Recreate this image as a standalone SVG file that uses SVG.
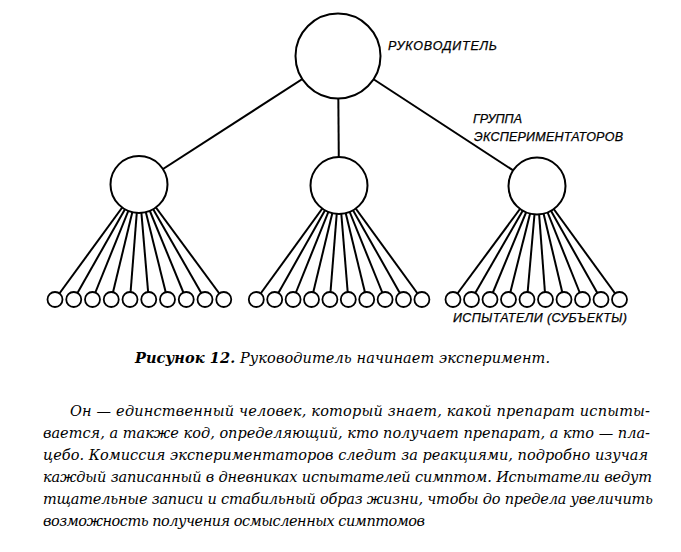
<svg xmlns="http://www.w3.org/2000/svg" width="681" height="552" viewBox="0 0 681 552">
<style>
.c{fill:#fff;stroke:#000;stroke-width:2}
.s{fill:#fff;stroke:#000;stroke-width:1.8}
.ln{stroke:#000;stroke-width:2;fill:none}
.lbl{font-family:"Liberation Sans",Arial,sans-serif;font-style:italic;font-size:12.5px;fill:#000;stroke:#000;stroke-width:0.25}
.txt{font-family:"DejaVu Serif","Liberation Serif",serif;font-style:italic;font-size:14.5px;fill:#000}
</style>
<rect width="681" height="552" fill="#fff"/>
<g id="connectors" class="ln">
<line x1="338" y1="56" x2="139" y2="184.5"/>
<line x1="338" y1="56" x2="339" y2="185.5"/>
<line x1="338" y1="56" x2="537" y2="186"/>
<line x1="139" y1="184.5" x2="55" y2="299.5"/>
<line x1="139" y1="184.5" x2="73.75" y2="299.5"/>
<line x1="139" y1="184.5" x2="92.5" y2="299.5"/>
<line x1="139" y1="184.5" x2="111.25" y2="299.5"/>
<line x1="139" y1="184.5" x2="130" y2="299.5"/>
<line x1="139" y1="184.5" x2="148.75" y2="299.5"/>
<line x1="139" y1="184.5" x2="167.5" y2="299.5"/>
<line x1="139" y1="184.5" x2="186.25" y2="299.5"/>
<line x1="139" y1="184.5" x2="205" y2="299.5"/>
<line x1="139" y1="184.5" x2="223.75" y2="299.5"/>
<line x1="339" y1="185.5" x2="256.3" y2="299.5"/>
<line x1="339" y1="185.5" x2="274.7" y2="299.5"/>
<line x1="339" y1="185.5" x2="293.1" y2="299.5"/>
<line x1="339" y1="185.5" x2="311.5" y2="299.5"/>
<line x1="339" y1="185.5" x2="329.9" y2="299.5"/>
<line x1="339" y1="185.5" x2="348.3" y2="299.5"/>
<line x1="339" y1="185.5" x2="366.7" y2="299.5"/>
<line x1="339" y1="185.5" x2="385.1" y2="299.5"/>
<line x1="339" y1="185.5" x2="403.5" y2="299.5"/>
<line x1="339" y1="185.5" x2="421.9" y2="299.5"/>
<line x1="537" y1="186" x2="453" y2="299.5"/>
<line x1="537" y1="186" x2="471.5" y2="299.5"/>
<line x1="537" y1="186" x2="490" y2="299.5"/>
<line x1="537" y1="186" x2="508.5" y2="299.5"/>
<line x1="537" y1="186" x2="527" y2="299.5"/>
<line x1="537" y1="186" x2="545.5" y2="299.5"/>
<line x1="537" y1="186" x2="564" y2="299.5"/>
<line x1="537" y1="186" x2="582.5" y2="299.5"/>
<line x1="537" y1="186" x2="601" y2="299.5"/>
<line x1="537" y1="186" x2="619.5" y2="299.5"/>
</g>
<g id="leader">
<circle class="c" cx="338" cy="56" r="42.5"/>
<text class="lbl" x="388" y="50" textLength="109">РУКОВОДИТЕЛЬ</text>
</g>
<g id="group-left"><circle class="c" cx="139" cy="184.5" r="28.5"/></g>
<g id="group-center"><circle class="c" cx="339" cy="185.5" r="28.5"/></g>
<g id="group-right">
<circle class="c" cx="537" cy="186" r="28.5"/>
<text class="lbl" x="473" y="123">ГРУППА</text>
<text class="lbl" x="474" y="141" textLength="149">ЭКСПЕРИМЕНТАТОРОВ</text>
</g>
<g id="subjects-left">
<circle class="s" cx="55" cy="299.5" r="7.5"/>
<circle class="s" cx="73.75" cy="299.5" r="7.5"/>
<circle class="s" cx="92.5" cy="299.5" r="7.5"/>
<circle class="s" cx="111.25" cy="299.5" r="7.5"/>
<circle class="s" cx="130" cy="299.5" r="7.5"/>
<circle class="s" cx="148.75" cy="299.5" r="7.5"/>
<circle class="s" cx="167.5" cy="299.5" r="7.5"/>
<circle class="s" cx="186.25" cy="299.5" r="7.5"/>
<circle class="s" cx="205" cy="299.5" r="7.5"/>
<circle class="s" cx="223.75" cy="299.5" r="7.5"/>
</g>
<g id="subjects-center">
<circle class="s" cx="256.3" cy="299.5" r="7.5"/>
<circle class="s" cx="274.7" cy="299.5" r="7.5"/>
<circle class="s" cx="293.1" cy="299.5" r="7.5"/>
<circle class="s" cx="311.5" cy="299.5" r="7.5"/>
<circle class="s" cx="329.9" cy="299.5" r="7.5"/>
<circle class="s" cx="348.3" cy="299.5" r="7.5"/>
<circle class="s" cx="366.7" cy="299.5" r="7.5"/>
<circle class="s" cx="385.1" cy="299.5" r="7.5"/>
<circle class="s" cx="403.5" cy="299.5" r="7.5"/>
<circle class="s" cx="421.9" cy="299.5" r="7.5"/>
</g>
<g id="subjects-right">
<circle class="s" cx="453" cy="299.5" r="7.5"/>
<circle class="s" cx="471.5" cy="299.5" r="7.5"/>
<circle class="s" cx="490" cy="299.5" r="7.5"/>
<circle class="s" cx="508.5" cy="299.5" r="7.5"/>
<circle class="s" cx="527" cy="299.5" r="7.5"/>
<circle class="s" cx="545.5" cy="299.5" r="7.5"/>
<circle class="s" cx="564" cy="299.5" r="7.5"/>
<circle class="s" cx="582.5" cy="299.5" r="7.5"/>
<circle class="s" cx="601" cy="299.5" r="7.5"/>
<circle class="s" cx="619.5" cy="299.5" r="7.5"/>
<text class="lbl" x="453" y="322" textLength="174">ИСПЫТАТЕЛИ (СУБЪЕКТЫ)</text>
</g>
<g id="caption">
<text class="txt" x="135" y="363" font-size="15" textLength="415"><tspan font-weight="bold">Рисунок 12.</tspan> Руководитель начинает эксперимент.</text>
</g>
<g id="paragraph" class="txt">
<text x="70" y="416" textLength="580">Он — единственный человек, который знает, какой препарат испыты-</text>
<text x="43" y="438" textLength="607">вается, а также код, определяющий, кто получает препарат, а кто — пла-</text>
<text x="43" y="460" textLength="605">цебо. Комиссия экспериментаторов следит за реакциями, подробно изучая</text>
<text x="43" y="482" textLength="609">каждый записанный в дневниках испытателей симптом. Испытатели ведут</text>
<text x="43" y="504" textLength="610">тщательные записи и стабильный образ жизни, чтобы до предела увеличить</text>
<text x="43" y="526" textLength="382">возможность получения осмысленных симптомов</text>
</g>
</svg>
